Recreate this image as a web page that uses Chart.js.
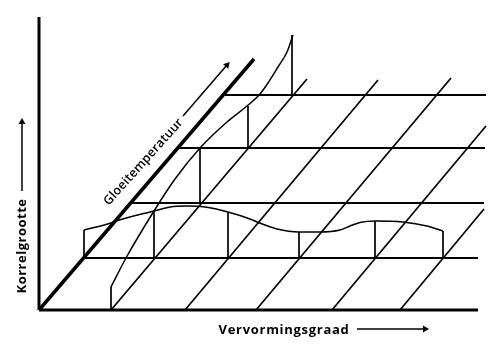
<!DOCTYPE html>
<html>
<head>
<meta charset="utf-8">
<style>
    html, body { margin: 0; padding: 0; background: #fff; }
    canvas { display: block; }
</style>
<script src="https://cdn.jsdelivr.net/npm/chart.js@4/dist/chart.umd.min.js"></script>
</head>
<body>
<canvas id="chart-korrelgrootte" width="500" height="358"></canvas>
<script>
// axis units: x = vervormingsgraad, y = korrelgrootte
const axisXEnd = 439;
const axisYEnd = 293;
const temperatureEndX = 215;
const temperatureEndY = 251;

// horizontal rows (gloeitemperatuur steps)
const rowHeights = [52, 107, 162, 215];
const rowStarts = [45, 91, 138, 184];
const rowEnds = [439, 445, 446, 447];

// slanted lines (vervormingsgraad steps)
const gradeStarts = [72, 146, 217, 293, 361];
const gradeEndsX = [268, 339, 412, 447, 445];
const gradeEndsY = [231, 230, 232, 184, 101];

// grain size along the lowest temperature row
const frontCurveX = [45, 72, 77, 115, 131, 148, 166, 189, 211, 218, 238, 260, 281, 301, 311, 321, 336, 364, 388, 404];
const frontCurveY = [80, 87, 89, 99, 103, 104, 103, 98, 91, 88, 81, 78, 78, 80, 84, 87.5, 89, 88, 84, 79];

// grain size along the lowest deformation line
const backCurveX = [72, 87, 115, 136, 161, 188, 208, 221, 229, 239, 248, 254];
const backCurveY = [23, 52, 99, 131, 162, 188, 204, 216, 227, 243, 258, 275];

// vertical posts between grid and curves
const postX = [45, 115, 189, 260, 336, 404, 72, 161, 209, 253];
const postBase = [52, 52, 52, 52, 52, 52, 0, 107, 162, 215];
const postTop = [80, 99, 98, 78, 89, 79, 23, 162, 204, 275];

const xAxisLabel = 'Vervormingsgraad';
const yAxisLabel = 'Korrelgrootte';
const diagonalLabel = 'Gloeitemperatuur';

const segment = (x1, y1, x2, y2, width) => ({
    data: [{ x: x1, y: y1 }, { x: x2, y: y2 }],
    borderColor: '#000',
    borderWidth: width,
    borderCapStyle: 'butt',
    pointRadius: 0
});

const curve = (xs, ys, width) => ({
    data: xs.map((x, i) => ({ x: x, y: ys[i] })),
    borderColor: '#000',
    borderWidth: width,
    cubicInterpolationMode: 'monotone',
    pointRadius: 0
});

const arrow = (x1, y1, x2, y2, rotation) => ({
    data: [{ x: x1, y: y1 }, { x: x2, y: y2 }],
    borderColor: '#000',
    borderWidth: 1.5,
    pointRadius: [0, 4],
    pointStyle: 'triangle',
    pointRotation: rotation,
    pointBackgroundColor: '#000',
    pointBorderWidth: 0
});

const datasets = [
    segment(0, 0, 0, axisYEnd, 3),
    segment(0, 0, axisXEnd, 0, 3),
    segment(0, 0, temperatureEndX, temperatureEndY, 3.5),
    ...rowHeights.map((h, i) => segment(rowStarts[i], h, rowEnds[i], h, 2)),
    ...gradeStarts.map((x, i) => segment(x, 0, gradeEndsX[i], gradeEndsY[i], 1.7)),
    ...postX.map((x, i) => segment(x, postBase[i], x, postTop[i], 1.7)),
    curve(frontCurveX, frontCurveY, 1.6),
    curve(backCurveX, backCurveY, 1.5),
    arrow(318, -19, 386, -19, 90),
    arrow(-17, 119, -17, 188, 0),
    arrow(144, 194, 188, 245, 41)
];

// axis names sit on the picture itself, not in reserved axis space
const textLabels = {
    id: 'textLabels',
    afterDatasetsDraw(chart) {
        const { ctx, scales } = chart;
        const draw = (text, x, y, angle, font, spacing) => {
            ctx.save();
            ctx.translate(scales.x.getPixelForValue(x), scales.y.getPixelForValue(y));
            ctx.rotate(angle * Math.PI / 180);
            ctx.font = font;
            ctx.letterSpacing = spacing;
            ctx.fillStyle = '#000';
            ctx.textAlign = 'center';
            ctx.textBaseline = 'middle';
            ctx.fillText(text, 0, 0);
            ctx.restore();
        };
        draw(xAxisLabel, 245, -20, 0, '700 13px "Open Sans"', '0.7px');
        draw(yAxisLabel, -17, 64, -90, '700 13px "Open Sans"', '0.5px');
        draw(diagonalLabel, 104.5, 148, -48, '600 12.5px "Open Sans"', '0.2px');
    }
};

new Chart(document.getElementById('chart-korrelgrootte').getContext('2d'), {
    type: 'line',
    data: { datasets: datasets },
    options: {
        responsive: false,
        animation: false,
        layout: { padding: 0, autoPadding: false },
        scales: {
            x: { type: 'linear', display: false, min: -39, max: 461 },
            y: { type: 'linear', display: false, min: -48, max: 310 }
        },
        plugins: {
            legend: { display: false },
            tooltip: { enabled: false }
        }
    },
    plugins: [textLabels]
});
</script>
</body>
</html>
